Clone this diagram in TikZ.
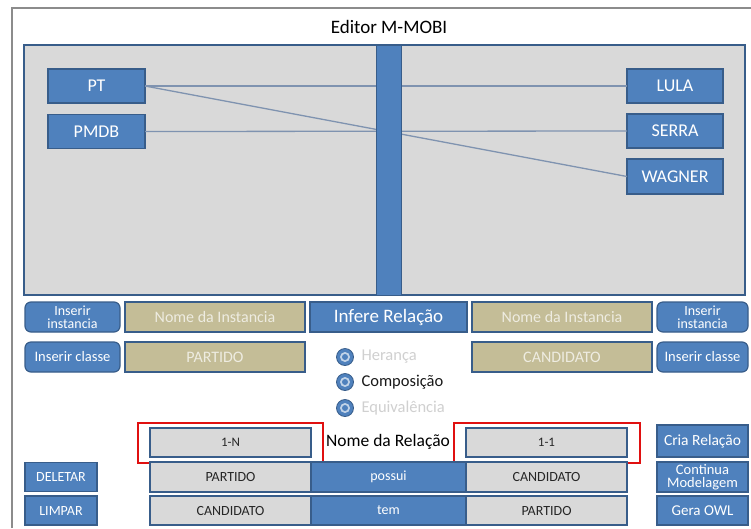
\documentclass[tikz,border=0pt]{standalone}
\usepackage{fontspec}
\setmainfont{Carlito}
\definecolor{obl}{HTML}{4F81BD}
\definecolor{bdr}{HTML}{385D8A}
\definecolor{mytan}{HTML}{C4BD97}
\definecolor{tantext}{HTML}{EEECE1}
\definecolor{lgray}{HTML}{D9D9D9}
\definecolor{dtext}{HTML}{262626}
\definecolor{linec}{HTML}{7F93B0}
\definecolor{frame}{HTML}{8C8C8C}
\definecolor{dim}{HTML}{D0D0D0}
\definecolor{redc}{HTML}{E01010}
\newcommand{\fs}[1]{\fontsize{#1}{#1}\selectfont}
\newcommand{\fsb}[2]{\fontsize{#1}{#2}\selectfont}
\tikzset{
  box/.style={draw=bdr, line width=1.2pt, inner sep=0pt, outer sep=0pt, align=center},
  bluebox/.style={box, fill=obl, text=white},
  tanbox/.style={box, fill=mytan, text=tantext},
  graybox/.style={box, fill=lgray, text=dtext},
  roundbtn/.style={bluebox, rounded corners=6pt},
  conn/.style={draw=linec, line width=1.3pt},
  redframe/.style={draw=redc, line width=1.8pt},
  radio/.style={circle, fill=obl, draw=bdr, line width=0.8pt, minimum size=17pt, inner sep=0pt},
}
\begin{document}
\begin{tikzpicture}[x=1pt, y=-1pt]
\useasboundingbox (0,0) rectangle (751,528);
\fill[white] (0,0) rectangle (751,528);
% outer frame
\draw[frame, line width=2pt] (12,528) -- (12,8) -- (751,8);
\node[text=black, font=\fs{19}] (title) at (389,27) {Editor M-MOBI};
% canvas
\node[draw=bdr, line width=1.2pt, fill=lgray, minimum width=721pt, minimum height=250pt, inner sep=0pt] (canvas) at (384.5,170) {};
% instance boxes
\node[bluebox, minimum width=97pt, minimum height=34pt, font=\fs{18}] (PT) at (96.5,86) {PT};
\node[bluebox, minimum width=97pt, minimum height=34pt, font=\fs{18}] (PMDB) at (96.5,131.5) {PMDB};
\node[bluebox, minimum width=96pt, minimum height=34pt, font=\fs{18}] (LULA) at (675,86) {LULA};
\node[bluebox, minimum width=96pt, minimum height=34pt, font=\fs{18}] (SERRA) at (675,131) {SERRA};
\node[bluebox, minimum width=96pt, minimum height=35pt, font=\fs{18}] (WAGNER) at (675,176.5) {WAGNER};
% connectors
\draw[conn] (PT.east) -- (LULA.west);
\draw[conn] (PT.east) -- (WAGNER.west);
\draw[conn] (PMDB.east) -- (SERRA.west);
% vertical bar
\node[draw=bdr, line width=0.8pt, fill=obl, minimum width=25pt, minimum height=250pt, inner sep=0pt] (bar) at (388.5,170) {};
% row 1
\node[roundbtn, minimum width=95pt, minimum height=30pt, font=\fsb{14}{13}] (insL) at (72.5,317) {Inserir\\instancia};
\node[tanbox, minimum width=180pt, minimum height=30pt, font=\fs{16}] (nomeL) at (215,317) {Nome da Instancia};
\node[bluebox, minimum width=157pt, minimum height=30pt, font=\fs{19}] (infere) at (388.5,317) {Infere Relação};
\node[tanbox, minimum width=180pt, minimum height=30pt, font=\fs{16}] (nomeR) at (562,317) {Nome da Instancia};
\node[roundbtn, minimum width=91pt, minimum height=30pt, font=\fsb{14}{13}] (insR) at (702.5,317) {Inserir\\instancia};
% row 2
\node[roundbtn, minimum width=95pt, minimum height=30pt, font=\fs{14.5}] (clsL) at (72.5,357) {Inserir classe};
\node[tanbox, minimum width=180pt, minimum height=30pt, font=\fs{16}] (partL) at (215,357) {PARTIDO};
\node[tanbox, minimum width=180pt, minimum height=30pt, font=\fs{16}] (candR) at (562,357) {CANDIDATO};
\node[roundbtn, minimum width=91pt, minimum height=30pt, font=\fs{14.5}] (clsR) at (702.5,357) {Inserir classe};
% radio buttons
\node[radio] (r1) at (345,357) {};
\node[radio] (r2) at (345,382) {};
\node[radio] (r3) at (345,408) {};
\foreach \r in {r1,r2,r3}{
  \fill[white!65!obl] (\r) circle (5pt);
  \fill[obl] (\r) circle (3pt);
}
\node[anchor=west, text=dim, font=\fs{16.5}] (l1) at (358,357) {Herança};
\node[anchor=west, text=black!90, font=\fs{16.5}] (l2) at (358,382) {Composição};
\node[anchor=west, text=dim, font=\fs{16.5}] (l3) at (358,408) {Equivalência};
% row 3
\node[graybox, minimum width=161pt, minimum height=29pt, font=\fs{13}] (oneN) at (230.5,442.5) {1-N};
\node[redframe, minimum width=185pt, minimum height=40pt, inner sep=0pt] (redL) at (230.5,443) {};
\node[text=black, font=\fs{17.5}] (nomeRel) at (388,442) {Nome da Relação};
\node[graybox, minimum width=161pt, minimum height=29pt, font=\fs{13}] (oneOne) at (546.5,442.5) {1-1};
\node[redframe, minimum width=186pt, minimum height=40pt, inner sep=0pt] (redR) at (547,443) {};
\node[bluebox, minimum width=91pt, minimum height=32pt, font=\fs{15.5}] (cria) at (702.5,441) {Cria Relação};
% row 4
\node[bluebox, minimum width=72pt, minimum height=29pt, font=\fs{14}] (del) at (61,477) {DELETAR};
\node[graybox, minimum width=161pt, minimum height=30pt, font=\fs{14}] (p1) at (230.5,477) {PARTIDO};
\node[bluebox, minimum width=155pt, minimum height=30pt, font=\fs{14}] (possui) at (388.5,477) {possui};
\node[graybox, minimum width=161pt, minimum height=30pt, font=\fs{14}] (c1) at (546.5,477) {CANDIDATO};
\node[bluebox, minimum width=91pt, minimum height=30pt, font=\fsb{14.5}{13}] (cont) at (702.5,477) {Continua\\Modelagem};
% row 5
\node[bluebox, minimum width=72pt, minimum height=29pt, font=\fs{14}] (limpar) at (61,510.5) {LIMPAR};
\node[graybox, minimum width=161pt, minimum height=29pt, font=\fs{14}] (c2) at (230.5,510.5) {CANDIDATO};
\node[bluebox, minimum width=155pt, minimum height=29pt, font=\fs{14}] (tem) at (388.5,510.5) {tem};
\node[graybox, minimum width=161pt, minimum height=29pt, font=\fs{14}] (p2) at (546.5,510.5) {PARTIDO};
\node[bluebox, minimum width=91pt, minimum height=29pt, font=\fs{15}] (gera) at (702.5,510.5) {Gera OWL};
\end{tikzpicture}
\end{document}
